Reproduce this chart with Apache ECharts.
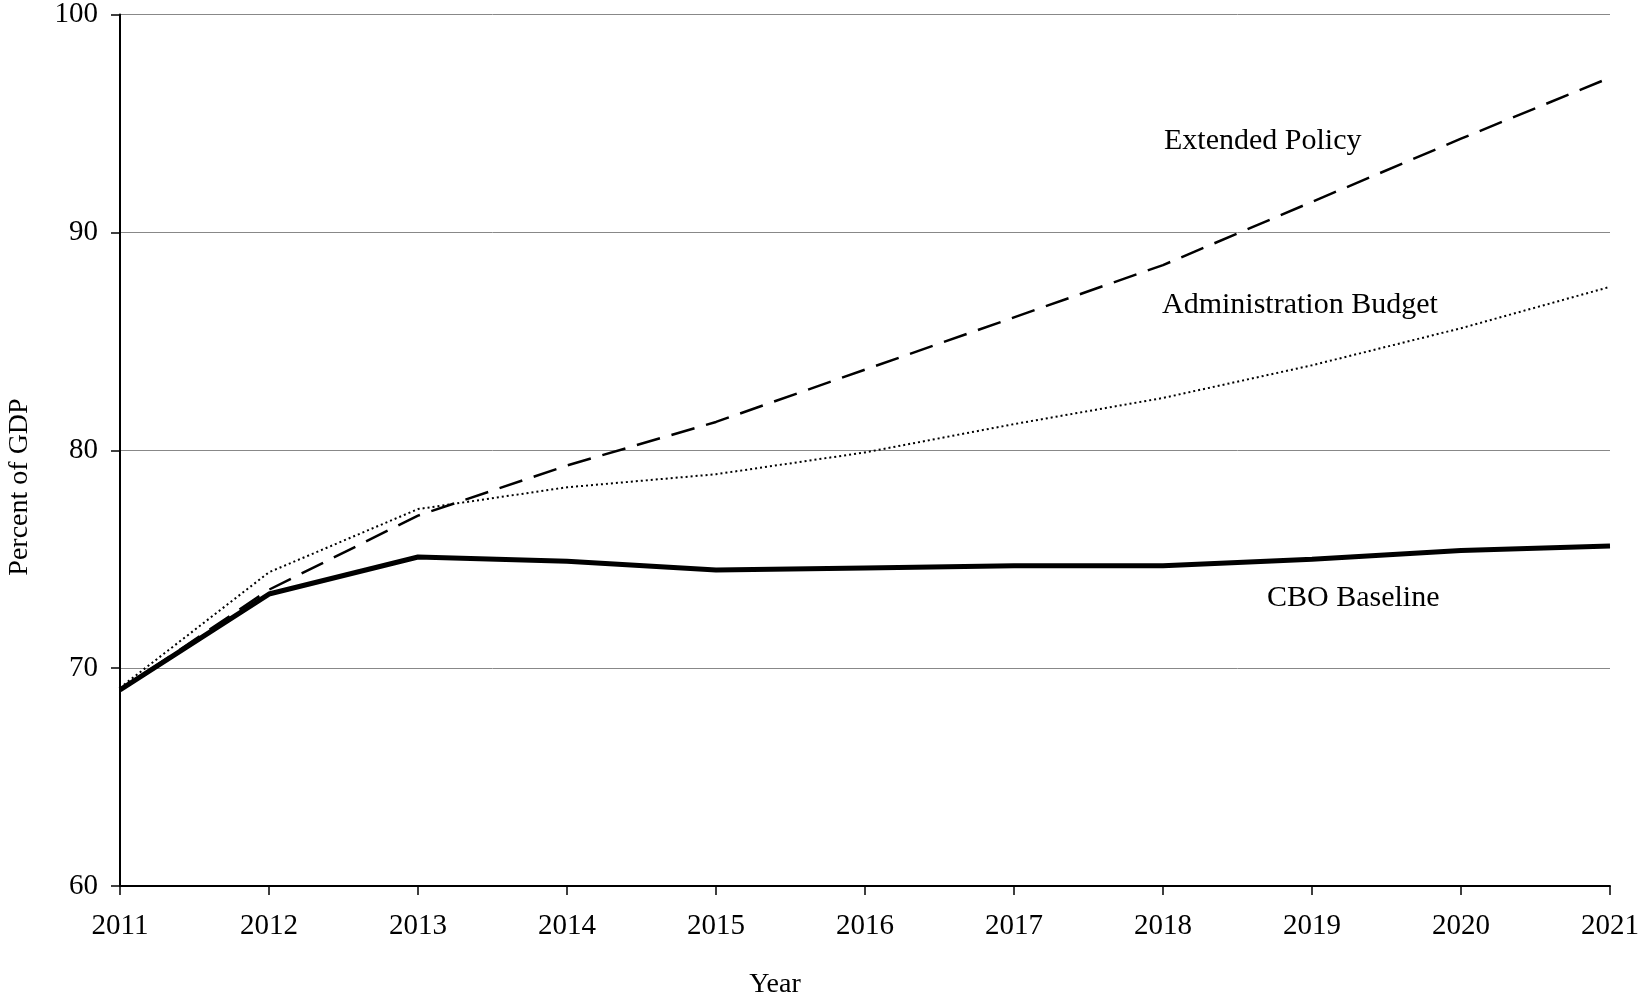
<!DOCTYPE html>
<html><head><meta charset="utf-8">
<script src="https://cdn.jsdelivr.net/npm/echarts@6/dist/echarts.min.js"></script>
<style>html,body{margin:0;background:#fff}#c{width:1642px;height:1001px}</style>
</head><body><div id="c"></div>
<script>
const years = ['2011','2012','2013','2014','2015','2016','2017','2018','2019','2020','2021']
const cboBaseline = [69.0, 73.4, 75.1, 74.9, 74.5, 74.6, 74.7, 74.7, 75.0, 75.4, 75.6]
const extendedPolicy = [69.0, 73.6, 77.0, 79.3, 81.3, 83.7, 86.1, 88.5, 91.4, 94.3, 97.1]
const adminBudget = [69.1, 74.4, 77.3, 78.3, 78.9, 79.9, 81.2, 82.4, 83.9, 85.6, 87.5]

const font = 'Liberation Serif'
const textFont = '30px "Liberation Serif"'
const chart = echarts.init(document.getElementById('c'))
chart.setOption({
  animation: false,
  grid: { left: 120, right: 29, top: 9, bottom: 115 },
  xAxis: {
    type: 'category', data: years, boundaryGap: false,
    axisLine: { lineStyle: { color: '#000', width: 2 } },
    axisTick: { length: 9, lineStyle: { color: '#000', width: 1.5 } },
    axisLabel: { fontFamily: font, fontSize: 29, color: '#000', margin: 26 }
  },
  yAxis: {
    type: 'value', min: 60, max: 100, interval: 10,
    axisLine: { show: true, lineStyle: { color: '#000', width: 2 } },
    axisTick: { show: true, length: 9, lineStyle: { color: '#000', width: 1.5 } },
    axisLabel: { fontFamily: font, fontSize: 29, color: '#000', margin: 22 },
    splitLine: { lineStyle: { color: '#888', width: 1 } }
  },
  series: [
    { name: 'Extended Policy', type: 'line', data: extendedPolicy, symbol: 'none',
      lineStyle: { color: '#000', width: 2.5, type: [24, 12] } },
    { name: 'Administration Budget', type: 'line', data: adminBudget, symbol: 'none',
      lineStyle: { color: '#000', width: 2, type: [2, 3] } },
    { name: 'CBO Baseline', type: 'line', data: cboBaseline, symbol: 'none',
      lineStyle: { color: '#000', width: 5 } }
  ],
  graphic: [
    { type: 'text', left: 1164, top: 126, style: { text: 'Extended Policy', font: textFont, fill: '#000' } },
    { type: 'text', left: 1162, top: 290, style: { text: 'Administration Budget', font: textFont, fill: '#000' } },
    { type: 'text', left: 1267, top: 583, style: { text: 'CBO Baseline', font: textFont, fill: '#000' } },
    { type: 'text', x: 775, y: 985, style: { text: 'Year', font: '28px "Liberation Serif"', fill: '#000', align: 'center', verticalAlign: 'middle' } },
    { type: 'text', x: 20, y: 487, rotation: Math.PI / 2, style: { text: 'Percent of GDP', font: '28px "Liberation Serif"', fill: '#000', align: 'center', verticalAlign: 'middle' } }
  ]
})
</script></body></html>
